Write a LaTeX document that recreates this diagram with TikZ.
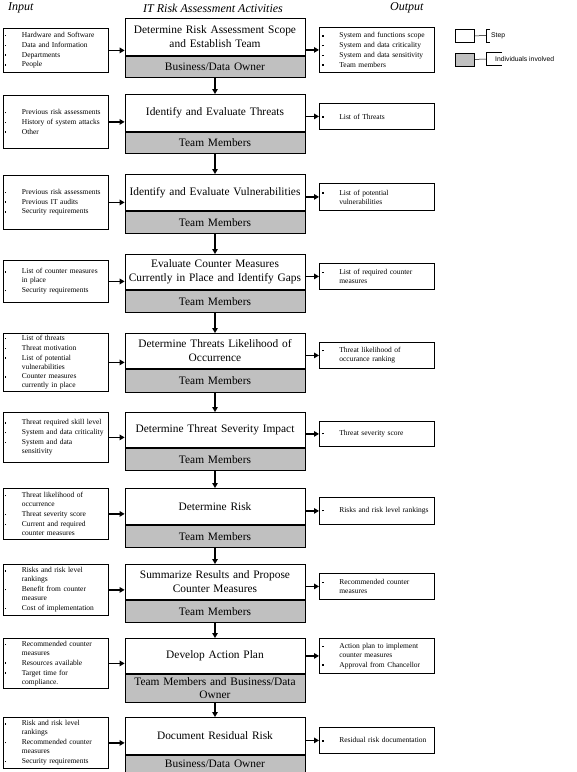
\documentclass[tikz,border=0pt]{standalone}
\usepackage{fontspec}
\setmainfont{Liberation Serif}
\newfontfamily\legendfont{Liberation Sans}
\usetikzlibrary{arrows.meta}
\definecolor{rolegray}{RGB}{192,192,192}
\newcommand\itm[1]{\hangindent=17pt\hangafter=1\noindent\makebox[17pt][l]{\rule[1.3pt]{1.5pt}{1.5pt}}#1\par}
\tikzset{
  stepbox/.style={draw, line width=0.8pt, fill=white, anchor=north, minimum width=180pt,
    text width=178pt, align=center, inner xsep=1pt, inner ysep=1pt,
    font=\fontsize{11.4}{14}\selectfont},
  rolebox/.style={stepbox, fill=rolegray, font=\fontsize{11.4}{13}\selectfont},
  listbox/.style={draw, line width=0.8pt, fill=white, anchor=north west, inner ysep=1pt,
    font=\fontsize{7.5}{9}\selectfont,
    execute at begin node={\raggedright\setlength\parskip{0.8pt}}},
  inbox/.style={listbox, minimum width=105pt, text width=102pt, inner xsep=1.5pt},
  outbox/.style={listbox, minimum width=115pt, text width=109pt, inner xsep=3pt},
  arr/.style={line width=1.5pt, -{Triangle[length=5pt,width=5.5pt]}},
  head/.style={font=\fontsize{12}{14}\selectfont\itshape, inner sep=0pt},
  legbox/.style={draw, line width=0.8pt, minimum width=19pt, minimum height=13pt, anchor=north west, inner sep=0pt},
  legtext/.style={font=\legendfont\fontsize{6.8}{8}\selectfont, anchor=west, inner sep=0pt},
  legline/.style={line width=0.5pt}
}
\begin{document}
\begin{tikzpicture}[x=1pt,y=-1pt]
\useasboundingbox (0,0) rectangle (577,772);
% headers
\node[head, anchor=west] (hin) at (8,8) {Input};
\node[head] (hact) at (213,8) {IT Risk Assessment Activities};
\node[head, anchor=west] (hout) at (390,8) {Output};
% legend
\node[legbox, fill=white] (lstep) at (455,29) {};
\node[legbox, fill=rolegray] (lrole) at (455,52.5) {};
\coordinate (bstep) at (486,35.5);
\coordinate (brole) at (486,59);
\draw[legline] (lstep.east) -- (bstep);
\draw[legline] (490,29) -- (486,29) -- (486,42) -- (490,42);
\draw[legline] (lrole.east) -- (brole);
\draw[legline] (502,52.5) -- (486,52.5) -- (486,65.5) -- (502,65.5);
\node[legtext] (tstep) at (491,35.5) {Step};
\node[legtext] (trole) at (495,59) {Individuals involved};

% step 1
\node[stepbox, minimum height=37pt] (s1) at (215,18) {Determine Risk Assessment Scope\\and Establish Team};
\node[rolebox, minimum height=21pt] (r1) at (s1.south) {Business/Data Owner};
\node[inbox, minimum height=44pt] (i1) at (3,28) {\itm{Hardware and Software}\itm{Data and Information}\itm{Departments}\itm{People}};
\node[outbox, minimum height=45pt] (o1) at (319,27) {\itm{System and functions scope}\itm{System and data criticality}\itm{System and data sensitivity}\itm{Team members}};

% step 2
\node[stepbox, minimum height=37pt] (s2) at (215,94) {Identify and Evaluate Threats};
\node[rolebox, minimum height=21pt] (r2) at (s2.south) {Team Members};
\node[inbox, minimum height=53pt] (i2) at (3,95) {\itm{Previous risk assessments}\itm{History of system attacks}\itm{Other}};
\node[outbox, minimum height=26pt] (o2) at (319,103) {\itm{List of Threats}};

% step 3
\node[stepbox, minimum height=36pt] (s3) at (215,174) {Identify and Evaluate Vulnerabilities};
\node[rolebox, minimum height=22pt] (r3) at (s3.south) {Team Members};
\node[inbox, minimum height=54pt] (i3) at (3,175) {\itm{Previous risk assessments}\itm{Previous IT audits}\itm{Security requirements}};
\node[outbox, minimum height=27pt] (o3) at (319,183) {\itm{List of potential\break vulnerabilities}};

% step 4
\node[stepbox, minimum height=35pt] (s4) at (215,254) {Evaluate Counter Measures\\Currently in Place and Identify Gaps};
\node[rolebox, minimum height=22pt] (r4) at (s4.south) {Team Members};
\node[inbox, minimum height=42pt] (i4) at (3,260) {\itm{List of counter measures\break in place}\itm{Security requirements}};
\node[outbox, minimum height=26pt] (o4) at (319,263) {\itm{List of required counter\break measures}};

% step 5
\node[stepbox, minimum height=35pt] (s5) at (215,333) {Determine Threats Likelihood of\\Occurrence};
\node[rolebox, minimum height=23pt] (r5) at (s5.south) {Team Members};
\node[inbox, minimum height=58pt] (i5) at (3,333) {\itm{List of threats}\itm{Threat motivation}\itm{List of potential\break vulnerabilities}\itm{Counter measures\break currently in place}};
\node[outbox, minimum height=26pt] (o5) at (319,342) {\itm{Threat likelihood of\break occurance ranking}};

% step 6
\node[stepbox, minimum height=35pt] (s6) at (215,412) {Determine Threat Severity Impact};
\node[rolebox, minimum height=22pt] (r6) at (s6.south) {Team Members};
\node[inbox, minimum height=50pt] (i6) at (3,412) {\itm{Threat required skill level}\itm{System and data criticality}\itm{System and data\break sensitivity}};
\node[outbox, minimum height=25pt] (o6) at (319,421) {\itm{Threat severity score}};

% step 7
\node[stepbox, minimum height=36pt] (s7) at (215,488) {Determine Risk};
\node[rolebox, minimum height=22pt] (r7) at (s7.south) {Team Members};
\node[inbox, minimum height=51pt] (i7) at (3,488) {\itm{Threat likelihood of\break occurrence}\itm{Threat severity score}\itm{Current and required\break counter measures}};
\node[outbox, minimum height=27pt] (o7) at (319,497) {\itm{Risks and risk level rankings}};

% step 8
\node[stepbox, minimum height=35pt] (s8) at (215,564) {Summarize Results and Propose\\Counter Measures};
\node[rolebox, minimum height=22pt] (r8) at (s8.south) {Team Members};
\node[inbox, minimum height=51pt] (i8) at (3,564) {\itm{Risks and risk level\break rankings}\itm{Benefit from counter\break measure}\itm{Cost of implementation}};
\node[outbox, minimum height=26pt] (o8) at (319,573) {\itm{Recommended counter\break measures}};

% step 9
\node[stepbox, minimum height=35pt] (s9) at (215,638) {Develop Action Plan};
\node[rolebox, minimum height=28pt] (r9) at (s9.south) {Team Members and Business/Data\\Owner};
\node[inbox, minimum height=50pt] (i9) at (3,638) {\itm{Recommended counter\break measures}\itm{Resources available}\itm{Target time for\break compliance.}};
\node[outbox, minimum height=35pt] (o9) at (319,638) {\itm{Action plan to implement\break counter measures}\itm{Approval from Chancellor}};

% step 10
\node[stepbox, minimum height=37pt] (s10) at (215,717) {Document Residual Risk};
\node[rolebox, minimum height=17pt] (r10) at (s10.south) {Business/Data Owner};
\node[inbox, minimum height=51pt] (i10) at (3,717) {\itm{Risk and risk level\break rankings}\itm{Recommended counter\break measures}\itm{Security requirements}};
\node[outbox, minimum height=26pt] (o10) at (319,727) {\itm{Residual risk documentation}};

% connectors
\foreach \k in {1,...,10}{
  \draw[arr] (i\k.east) -- (i\k.east -| s\k.west);
  \draw[arr] (o\k.west -| s\k.east) -- (o\k.west);
}
\foreach \k/\n in {1/2,2/3,3/4,4/5,5/6,6/7,7/8,8/9,9/10}{
  \draw[arr] (r\k.south) -- (s\n.north);
}
\end{tikzpicture}
\end{document}
